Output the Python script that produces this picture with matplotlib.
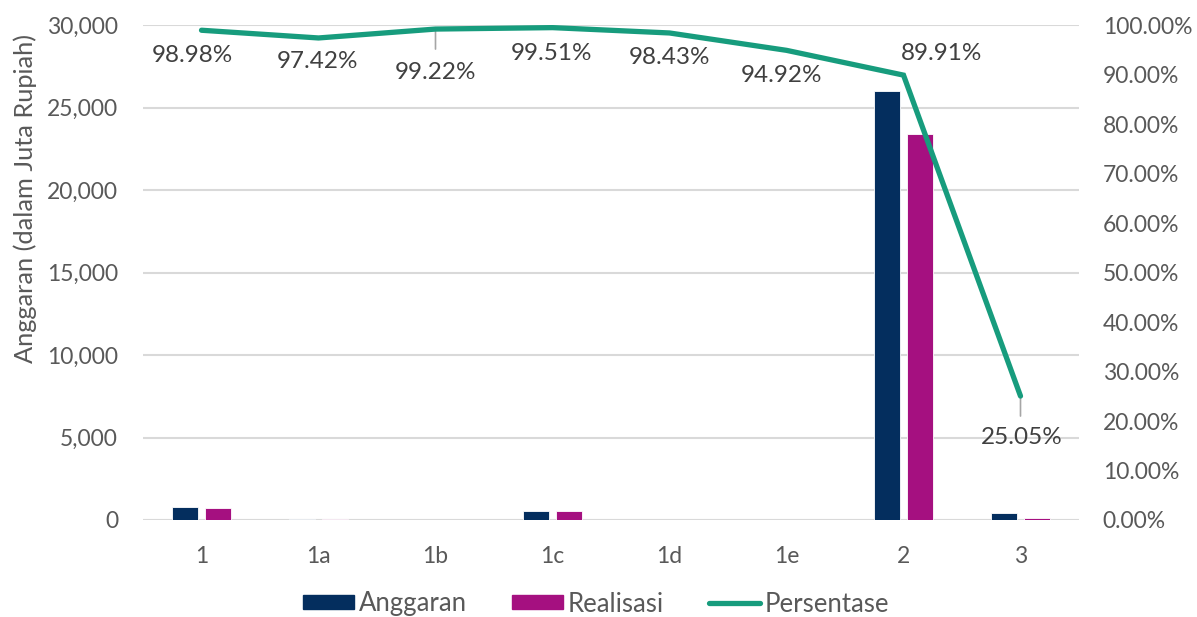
import matplotlib
matplotlib.use("Agg")
import matplotlib.pyplot as plt
import numpy as np
from matplotlib.lines import Line2D
from matplotlib.patches import Patch

plt.rcParams['font.family'] = ['Lato', 'DejaVu Sans']

categories = ["1", "1a", "1b", "1c", "1d", "1e", "2", "3"]
anggaran = [760, 70, 10, 560, 10, 10, 26000, 400]
realisasi = [752, 68, 10, 557, 10, 9, 23377, 100]
persentase = [98.98, 97.42, 99.22, 99.51, 98.43, 94.92, 89.91, 25.05]

left_ticks = [0, 5000, 10000, 15000, 20000, 25000, 30000]
right_ticks = [0, 10, 20, 30, 40, 50, 60, 70, 80, 90, 100]

# Label offsets (in pixels) relative to each line point
label_offsets = [(-9, -25), (-1, -24), (0, -43), (-1, -26), (0, -25), (-5, -25), (38, 22), (1, -41)]
leader_lines = [False, False, True, False, False, False, False, True]

c_ang = "#042E5E"
c_real = "#A51080"
c_line = "#179C7D"
c_tick = "#595959"
c_label = "#404040"
c_grid = "#D9D9D9"
fs = 16.5

fig = plt.figure(figsize=(11.97, 6.17), dpi=100)
ax = fig.add_axes([143 / 1197, 1 - 520 / 617, (1079 - 143) / 1197, (520 - 25.2) / 617])
ax2 = ax.twinx()

x = np.arange(len(categories))
bw = 0.222
off = 0.141
ax.bar(x - off, anggaran, width=bw, color=c_ang, edgecolor="white", linewidth=0.6, zorder=3)
ax.bar(x + off, realisasi, width=bw, color=c_real, edgecolor="white", linewidth=0.6, zorder=3)

ax.set_xlim(-0.5, len(categories) - 0.5)
ax.set_ylim(0, 30000)
ax.set_yticks(left_ticks)
ax.set_yticklabels([f"{v:,}" for v in left_ticks])
ax.set_xticks(x)
ax.set_xticklabels(categories)
ax.grid(axis="y", color=c_grid, linewidth=1.5, zorder=0)
ax.axhline(0, color=c_grid, linewidth=2.2, zorder=2)
for s in ax.spines.values():
    s.set_visible(False)
ax.tick_params(axis="y", length=0, labelsize=fs, colors=c_tick, pad=18)
ax.tick_params(axis="x", length=0, labelsize=fs, colors=c_tick, pad=19)

ax2.set_ylim(0, 100)
ax2.set_yticks(right_ticks)
ax2.set_yticklabels([f"{v:.2f}%" for v in right_ticks])
ax2.tick_params(axis="y", length=0, labelsize=fs, colors=c_tick, pad=17)
for s in ax2.spines.values():
    s.set_visible(False)

ax2.plot(x, persentase, color=c_line, linewidth=3.8, solid_capstyle="round",
         solid_joinstyle="miter", zorder=4)

for xi, p, (dx, dy), lead in zip(x, persentase, label_offsets, leader_lines):
    ax2.annotate(f"{p:.2f}%", xy=(xi, p), xytext=(dx, dy), textcoords="offset pixels",
                 ha="center", va="center", fontsize=17.5, color=c_label, zorder=5)
    if lead:
        ax2.annotate("", xy=(xi, p), xytext=(0, -20), textcoords="offset pixels",
                     arrowprops=dict(arrowstyle="-", color="#A6A6A6", lw=1.2,
                                     shrinkA=0, shrinkB=1), zorder=3)

fig.text(25 / 1197, 1 - 198 / 617, "Anggaran (dalam Juta Rupiah)", rotation=90,
         ha="center", va="center", fontsize=18.3, color=c_tick)

handles = [Patch(facecolor=c_ang, edgecolor=c_ang),
           Patch(facecolor=c_real, edgecolor=c_real),
           Line2D([0], [0], color=c_line, linewidth=3.8, solid_capstyle="round")]
fig.legend(handles, ["Anggaran", "Realisasi", "Persentase"], loc="center",
           bbox_to_anchor=(596 / 1197, 1 - 604 / 617), ncol=3, frameon=False,
           fontsize=18.5, labelcolor=c_tick, handlelength=1.98, handleheight=0.47,
           handletextpad=0.2, columnspacing=1.75)

fig.savefig("out.png", dpi=100)
